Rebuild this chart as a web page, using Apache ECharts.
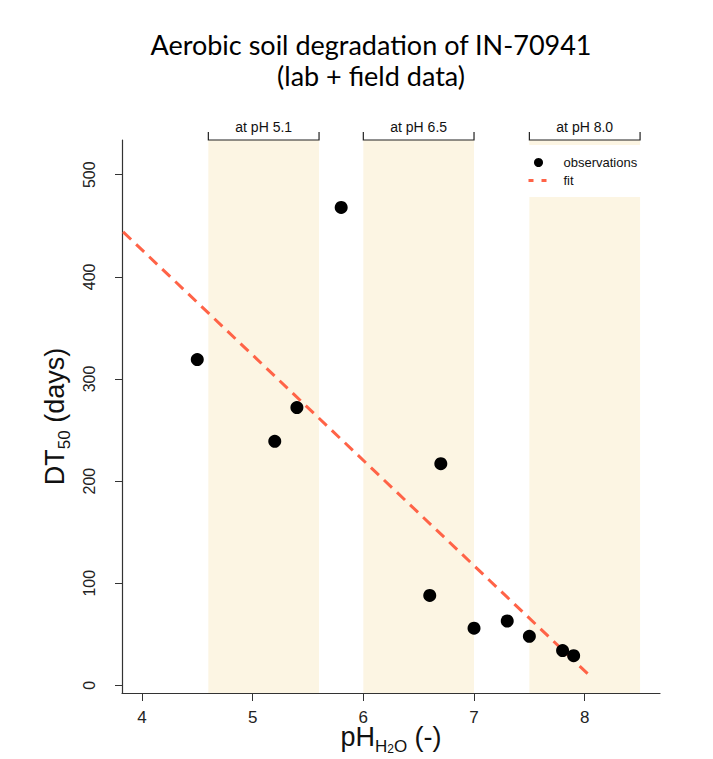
<!DOCTYPE html>
<html>
<head>
<meta charset="utf-8">
<script src="https://cdn.jsdelivr.net/npm/echarts@6/dist/echarts.min.js"></script>
<style>
  html, body { margin: 0; padding: 0; background: #fff; }
  #main { width: 713px; height: 759px; }
</style>
</head>
<body>
<div id="main"></div>
<script>
// observations
var obsPH = [4.5, 5.2, 5.4, 5.8, 6.6, 6.7, 7.0, 7.3, 7.5, 7.8, 7.9];
var obsDT50 = [319, 239, 272, 468, 88, 217, 56, 63, 48, 34, 29];
// fitted line end points
var fitPH = [3.83, 8.04];
var fitDT50 = [444, 10];
// shaded pH bands
var bandCenters = [5.1, 6.5, 8.0];
var bandLabels = ['at pH 5.1', 'at pH 6.5', 'at pH 8.0'];
var bandHalf = 0.5;
var xTicks = [4, 5, 6, 7, 8];
var yTicks = [0, 100, 200, 300, 400, 500];

var bandColor = '#fcf5e3';
var axisColor = '#333';

var chart = echarts.init(document.getElementById('main'), null, {renderer: 'svg'});

var obsData = obsPH.map(function (p, i) { return [p, obsDT50[i]]; });
var fitData = fitPH.map(function (p, i) { return [p, fitDT50[i]]; });
var bandData = bandCenters.map(function (c) { return [c - bandHalf, c + bandHalf]; });
var yMin = -7.5, yMax = 534;

var option = {
    backgroundColor: '#fff',
    animation: false,
    graphic: [
        {
            type: 'text', x: 371, y: 60,
            style: {
                text: 'Aerobic soil degradation of IN-70941\n(lab + field data)',
                fill: '#000', font: '27px Lato', textAlign: 'center',
                textVerticalAlign: 'middle', lineHeight: 31
            }
        }
    ],
    grid: {
        left: 122, right: 53, top: 140, bottom: 66,
        containLabel: false, outerBoundsMode: 'none'
    },
    legend: {
        orient: 'vertical',
        left: 521, top: 145,
        backgroundColor: '#fff',
        padding: [11, 20, 10, 6],
        itemGap: 5,
        itemWidth: 20, itemHeight: 9,
        textStyle: {fontFamily: 'Liberation Sans', fontSize: 13, color: '#111', padding: [0, 0, 0, 10]},
        data: [
            {name: 'observations', icon: 'circle', itemStyle: {color: '#000'}},
            {name: 'fit', itemStyle: {opacity: 0}, lineStyle: {type: [5, 8], width: 3, color: '#ff6347'}}
        ]
    },
    xAxis: {
        type: 'value', min: 3.82, max: 8.68,
        splitLine: {show: false},
        axisLine: {show: true, onZero: false, lineStyle: {color: axisColor, width: 1.2}},
        axisTick: {show: true, length: 8, customValues: xTicks, lineStyle: {color: axisColor}},
        axisLabel: {customValues: xTicks, margin: 16, fontFamily: 'Liberation Sans', fontSize: 17, color: '#222'},
        name: '{a|pH}{s|H}{ss|2}{s|O}{a| (-)}',
        nameLocation: 'middle', nameGap: 34, nameMoveOverlap: false,
        nameTextStyle: {
            rich: {
                a: {fontFamily: 'Liberation Sans', fontSize: 27, color: '#111', lineHeight: 28, padding: [0, 0, 5, 0], verticalAlign: 'bottom'},
                s: {fontFamily: 'Liberation Sans', fontSize: 17, color: '#111', lineHeight: 18, verticalAlign: 'bottom'},
                ss: {fontFamily: 'Liberation Sans', fontSize: 12, color: '#111', lineHeight: 13, verticalAlign: 'bottom'}
            }
        }
    },
    yAxis: {
        type: 'value', min: yMin, max: yMax,
        splitLine: {show: false},
        axisLine: {show: true, onZero: false, lineStyle: {color: axisColor, width: 1.2}},
        axisTick: {show: true, length: 7, customValues: yTicks, lineStyle: {color: axisColor}},
        axisLabel: {customValues: yTicks, rotate: 90, margin: 25, fontFamily: 'Liberation Sans', fontSize: 16, color: '#222'},
        name: '{a|DT}{b|50}{a| (days)}',
        nameLocation: 'middle', nameRotate: 90, nameGap: 47,
        nameTextStyle: {
            rich: {
                a: {fontFamily: 'Liberation Sans', fontSize: 27, color: '#111', lineHeight: 30, padding: [0, 0, 5, 0], verticalAlign: 'bottom'},
                b: {fontFamily: 'Liberation Sans', fontSize: 17, color: '#111', lineHeight: 18, verticalAlign: 'bottom'}
            }
        }
    },
    series: [
        {
            name: 'bands',
            type: 'custom',
            z: 1,
            clip: false,
            silent: true,
            data: bandData,
            renderItem: function (params, api) {
                var lo = api.coord([api.value(0), yMax]);
                var hi = api.coord([api.value(1), yMin]);
                var y = lo[1];
                return {
                    type: 'group',
                    children: [
                        {
                            type: 'rect',
                            shape: {x: lo[0], y: lo[1], width: hi[0] - lo[0], height: hi[1] - lo[1]},
                            style: {fill: bandColor}
                        },
                        {
                            type: 'polyline',
                            shape: {points: [[lo[0], y - 8], [lo[0], y], [hi[0], y], [hi[0], y - 8]]},
                            style: {stroke: '#222', lineWidth: 1.2, fill: null}
                        },
                        {
                            type: 'text',
                            x: (lo[0] + hi[0]) / 2, y: y - 13,
                            style: {
                                text: bandLabels[params.dataIndex],
                                font: '14px Liberation Sans', fill: '#111',
                                textAlign: 'center', textVerticalAlign: 'middle'
                            }
                        }
                    ]
                };
            }
        },
        {
            name: 'fit',
            type: 'line',
            z: 3,
            data: fitData,
            symbol: 'none',
            lineStyle: {color: '#ff6347', width: 3, type: [11, 7]},
            itemStyle: {color: '#ff6347'}
        },
        {
            name: 'observations',
            type: 'scatter',
            z: 4,
            data: obsData,
            symbolSize: 13,
            itemStyle: {color: '#000', opacity: 1}
        }
    ]
};

chart.setOption(option);
</script>
</body>
</html>
